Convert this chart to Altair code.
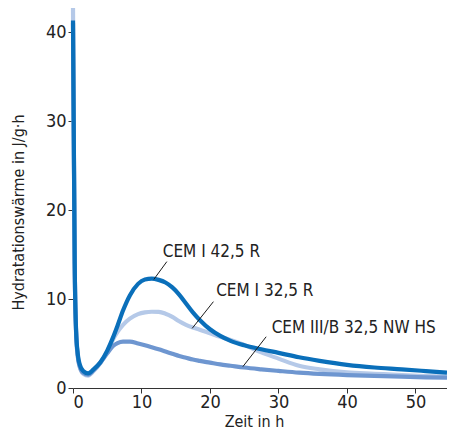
import altair as alt
import pandas as pd

hours = [0, 0.1, 0.25, 0.45, 0.7, 1.0, 1.5, 2.2, 3, 4, 5, 5.8, 6.5, 7.3, 8.3, 9.5,
         10.5, 11.5, 12.5, 13.5, 14.5, 15.5, 16.5, 17.5, 18.5, 20, 21.5, 23, 25,
         27.5, 30, 33, 36, 40, 44, 48, 51.5, 54.6]

cem1_425 = [41.3, 30, 14, 6.5, 3.8, 2.6, 1.9, 1.65, 2.1, 2.9, 4.2, 5.6, 7.0, 8.7,
            10.4, 11.7, 12.2, 12.3, 12.15, 11.85, 11.3, 10.5, 9.5, 8.5, 7.65, 6.6,
            5.85, 5.3, 4.8, 4.35, 3.95, 3.45, 3.05, 2.6, 2.3, 2.1, 1.9, 1.72]

cem1_325 = [42.8, 31, 14, 6.3, 3.5, 2.3, 1.6, 1.4, 1.9, 2.8, 4.1, 5.4, 6.3, 7.1,
            7.8, 8.3, 8.5, 8.57, 8.55, 8.35, 8.0, 7.5, 7.1, 6.8, 6.55, 6.15, 5.75,
            5.4, 4.85, 4.0, 3.3, 2.5, 2.1, 1.75, 1.6, 1.45, 1.35, 1.27]

cem3_325 = [41.0, 30, 14, 6.3, 3.6, 2.4, 1.7, 1.5, 2.0, 2.85, 3.9, 4.7, 5.05, 5.2,
            5.2, 5.0, 4.8, 4.58, 4.35, 4.1, 3.85, 3.6, 3.4, 3.2, 3.05, 2.85, 2.65,
            2.5, 2.3, 2.1, 1.92, 1.72, 1.58, 1.45, 1.36, 1.27, 1.2, 1.16]

series_names = ["CEM I 32,5 R", "CEM III/B 32,5 NW HS", "CEM I 42,5 R"]
series_values = [cem1_325, cem3_325, cem1_425]
series_colors = ["#b5c9e8", "#6e96d0", "#0a6fba"]

label_text = ["CEM I 42,5 R", "CEM I 32,5 R", "CEM III/B 32,5 NW HS"]
label_x = [13.1, 20.9, 29.0]
label_y = [14.7, 10.3, 6.2]
leader_x1 = [13.7, 20.5, 28.2]
leader_y1 = [14.2, 9.7, 5.76]
leader_x2 = [11.8, 17.4, 24.8]
leader_y2 = [12.2, 6.7, 2.4]

x_ticks = [0, 10, 20, 30, 40, 50]
y_ticks = [0, 10, 20, 30, 40]

FONT = "DejaVu Sans Condensed"

xscale = alt.Scale(domain=[0, 54.6], nice=False, zero=False)
yscale = alt.Scale(domain=[0, 40], nice=False)

x_axis = alt.Axis(values=x_ticks, title="Zeit in h", grid=False, tickSize=5,
                  labelPadding=0, titleX=181, titleY=38, titleBaseline="alphabetic")
y_axis = alt.Axis(values=y_ticks, title="Hydratationswärme in J/g·h", grid=False,
                  domain=False, tickSize=5, labelPadding=2, titleX=-50, titleY=180,
                  titleAngle=270, titleBaseline="alphabetic", titleAlign="center")

layers = []
for name, vals, col in zip(series_names, series_values, series_colors):
    df = pd.DataFrame({"h": hours, "w": vals, "s": name})
    layers.append(
        alt.Chart(df).mark_line(color=col, strokeWidth=4.2, interpolate="monotone",
                                strokeCap="butt").encode(
            x=alt.X("h:Q", scale=xscale, axis=x_axis),
            y=alt.Y("w:Q", scale=yscale, axis=y_axis))
    )

lab_df = pd.DataFrame({"t": label_text, "x": label_x, "y": label_y})
labels = alt.Chart(lab_df).mark_text(align="left", baseline="alphabetic", fontSize=17,
                                     font=FONT, color="#222222").encode(
    x=alt.X("x:Q", scale=xscale), y=alt.Y("y:Q", scale=yscale), text="t:N")

lead_df = pd.DataFrame({"x1": leader_x1, "y1": leader_y1, "x2": leader_x2, "y2": leader_y2})
leaders = alt.Chart(lead_df).mark_rule(color="#1a1a1a", strokeWidth=1).encode(
    x=alt.X("x1:Q", scale=xscale), y=alt.Y("y1:Q", scale=yscale),
    x2="x2:Q", y2="y2:Q")

chart = alt.layer(*layers, leaders, labels).properties(
    width=374, height=356,
    autosize=alt.AutoSizeParams(type="none"),
    padding={"left": 65, "top": 24, "right": 0, "bottom": 41},
).configure_view(stroke=None).configure_axis(
    labelFont=FONT, titleFont=FONT, labelFontSize=18, titleFontSize=16,
    labelColor="#222222", titleColor="#222222", titleFontWeight="normal",
    domainColor="#333333", tickColor="#333333", domainWidth=1, tickWidth=1,
)

chart.save("out.html", embed_options={"renderer": "svg", "actions": False})
